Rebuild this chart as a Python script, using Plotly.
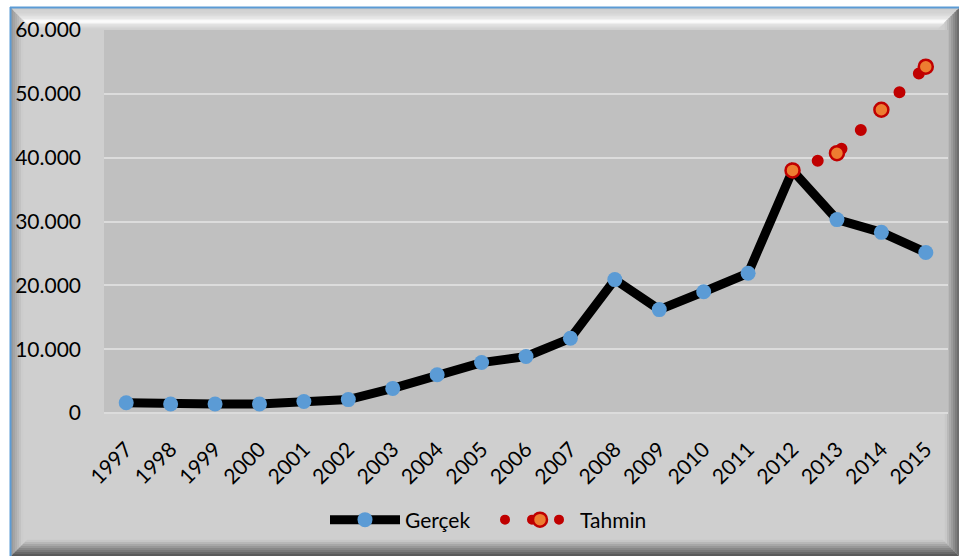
import plotly.graph_objects as go

# ---------------- data ----------------
years = [str(y) for y in range(1997, 2016)]
gercek = [1600, 1400, 1400, 1400, 1800, 2100, 3850, 6000, 7900, 8850,
          11700, 20900, 16200, 19000, 21900, 38000, 30300, 28300, 25150]
tahmin_years = ["2012", "2013", "2014", "2015"]
tahmin = [38000, 40700, 47500, 54250]
y_tick_vals = [0, 10000, 20000, 30000, 40000, 50000, 60000]

# ---------------- geometry helpers (pixels -> paper) ----------------
W, H = 959, 556
ML, MR, MT, MB = 104, 11, 30, 143
PW, PH = W - ML - MR, H - MT - MB


def px(x):
    return (x - ML) / PW


def py(y):
    return (H - MB - y) / PH


def poly(points, color):
    d = "M " + " L ".join(f"{px(a):.5f},{py(b):.5f}" for a, b in points) + " Z"
    return dict(type="path", xref="paper", yref="paper", path=d,
                fillcolor=color, line=dict(width=0), layer="below")


def hexmix(c1, c2, t):
    a = [int(c1[i:i + 2], 16) for i in (1, 3, 5)]
    b = [int(c2[i:i + 2], 16) for i in (1, 3, 5)]
    return "#" + "".join(f"{round(a[k] + (b[k] - a[k]) * t):02x}" for k in range(3))


L, T, R, B = 11, 8, 959, 556
shapes = []
# face
shapes.append(dict(type="rect", xref="paper", yref="paper", x0=px(L), x1=px(R),
                   y0=py(B), y1=py(T), fillcolor="#cfcfcf", line=dict(width=0), layer="below"))


def band(side, a, b, color):
    if side == "left":
        pts = [(L + a, T + a), (L + b, T + b), (L + b, B - b), (L + a, B - a)]
    elif side == "top":
        pts = [(L + a, T + a), (R - a, T + a), (R - b, T + b), (L + b, T + b)]
    elif side == "right":
        pts = [(R - a, T + a), (R - b, T + b), (R - b, B - b), (R - a, B - a)]
    else:
        pts = [(L + a, B - a), (R - a, B - a), (R - b, B - b), (L + b, B - b)]
    shapes.append(poly(pts, color))


# left bevel
n = 6
for i in range(n):
    band("left", i * 2, i * 2 + 2.2, hexmix("#9a9a9a", "#cccccc", i / (n - 1)))
# top bevel
top_cols = ["#d2d2d2", "#d4d4d4", "#d6d6d6", "#d8d8d8", "#dcdcdc", "#e2e2e2",
            "#eaeaea", "#f2f2f2", "#f8f8f8", "#fbfbfb", "#f8f8f8", "#f0f0f0",
            "#e6e6e6", "#dddddd", "#d6d6d6", "#d2d2d2"]
for i, c in enumerate(top_cols):
    band("top", 2 + i * 1.2, 2 + i * 1.2 + 1.4, c)
# right bevel
n = 7
for i in range(n):
    band("right", i * 2, i * 2 + 2.2, hexmix("#6e6e6e", "#c8c8c8", i / (n - 1)))
# bottom bevel
n = 8
for i in range(n):
    band("bottom", i * 2, i * 2 + 2.2, hexmix("#5a5a5a", "#c6c6c6", i / (n - 1)))

# blue outer border (left & top)
shapes.append(dict(type="line", xref="paper", yref="paper", x0=px(10.5), x1=px(10.5),
                   y0=py(556), y1=py(7), line=dict(color="#5b9bd5", width=2), layer="below"))
shapes.append(dict(type="line", xref="paper", yref="paper", x0=px(10), x1=px(959),
                   y0=py(7.5), y1=py(7.5), line=dict(color="#5b9bd5", width=2), layer="below"))
# plot-area background
shapes.append(dict(type="rect", xref="paper", yref="paper", x0=0, x1=1, y0=0, y1=1,
                   fillcolor="#c0c0c0", line=dict(width=0), layer="below"))

FONT = "Lato"

fig = go.Figure()
fig.add_trace(go.Scatter(
    x=years, y=gercek, name="Gerçek", mode="lines+markers",
    line=dict(color="#000000", width=9),
    marker=dict(color="#5b9bd5", size=15, line=dict(width=0)),
))
fig.add_trace(go.Scatter(
    x=tahmin_years, y=tahmin, name="Tahmin", mode="lines+markers",
    line=dict(color="#c00000", width=12, dash="12px,15px"),
    marker=dict(color="#ed7d31", size=14, line=dict(color="#c00000", width=2.5)),
))

fig.update_layout(
    width=W, height=H,
    margin=dict(l=ML, r=MR, t=MT, b=MB, pad=0),
    paper_bgcolor="#ffffff",
    plot_bgcolor="rgba(0,0,0,0)",
    separators=",.",
    font=dict(family=FONT, size=21, color="#000000"),
    shapes=shapes,
    showlegend=True,
    legend=dict(orientation="h", x=px(325), xanchor="left", y=py(520), yanchor="middle",
                bgcolor="rgba(0,0,0,0)", font=dict(family=FONT, size=21, color="#000000"),
                itemsizing="trace", itemwidth=70, entrywidth=90, entrywidthmode="pixels",
                tracegroupgap=0),
    xaxis=dict(type="category", categoryorder="array", categoryarray=years,
               range=[-0.5, 18.5], tickangle=-45, showgrid=False, zeroline=False,
               showline=False, ticks="", ticklabelstandoff=19,
               tickfont=dict(family=FONT, size=21, color="#000000")),
    yaxis=dict(range=[0, 60000], tickvals=y_tick_vals, tickformat=",d",
               showgrid=True, gridcolor="#dcdcdc", gridwidth=2,
               zeroline=True, zerolinecolor="#dcdcdc", zerolinewidth=2,
               showline=False, ticks="", ticklabelstandoff=22,
               tickfont=dict(family=FONT, size=21, color="#000000")),
)

post = """
(function(){
  document.documentElement.style.margin = '0';
  document.body.style.margin = '0';
  document.body.style.padding = '0';
  function fix(){
    document.querySelectorAll('path.js-line').forEach(function(p){
      var s = p.style.stroke || '';
      if (s.replace(/\\s/g,'') === 'rgb(192,0,0)') {
        p.style.strokeLinecap = 'round';
        p.style.strokeDasharray = '0 27';
      }
    });
  }
  fix();
  setTimeout(fix, 0);
  var gd = document.getElementById('{plot_id}');
  if (gd && gd.on) { gd.on('plotly_afterplot', fix); }
})();
"""

fig.write_html("out.html", post_script=post, config={"displayModeBar": False})
